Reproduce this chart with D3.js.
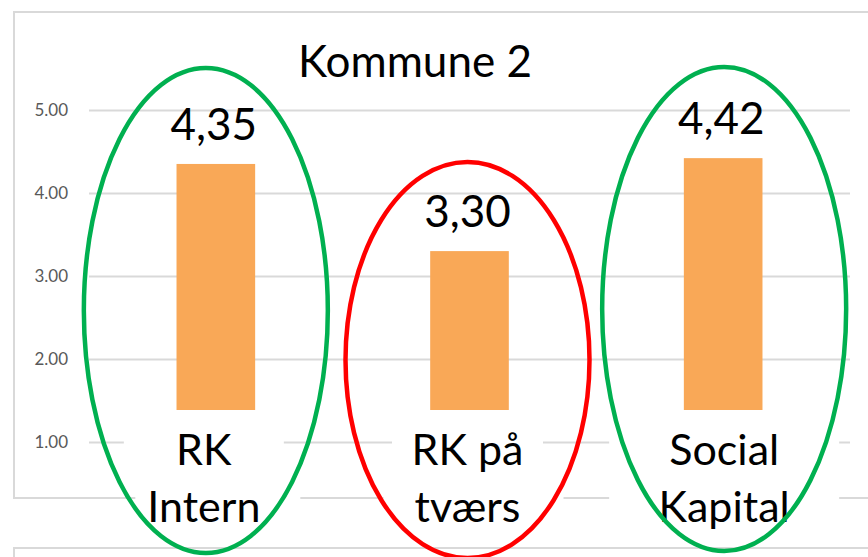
<!DOCTYPE html>
<html>
<head>
<meta charset="utf-8">
<script src="https://cdn.jsdelivr.net/npm/d3@7"></script>
<style>
  html, body { margin: 0; padding: 0; background: #fff; }
  svg { display: block; font-family: Lato, "Liberation Sans", sans-serif; }
</style>
</head>
<body>
<svg></svg>
<script>
// chart data
var title = "Kommune 2";
var categories = ["RK Intern", "RK på tværs", "Social Kapital"];
var labelLines = [["RK", "Intern"], ["RK på", "tværs"], ["Social", "Kapital"]];
var values = [4.35, 3.30, 4.42];
var yTicks = [1, 2, 3, 4, 5];
var ringColors = ["#00B050", "#FF0000", "#00B050"];

var width = 868,
    height = 557;

var svg = d3.select("svg")
    .attr("width", width)
    .attr("height", height);

// chart frame + the next chart's frame peeking in at the bottom
svg.append("rect")
    .attr("x", 14).attr("y", 12)
    .attr("width", 900).attr("height", 486)
    .attr("fill", "#fff")
    .attr("stroke", "#D9D9D9").attr("stroke-width", 2);
svg.append("rect")
    .attr("x", 14).attr("y", 548)
    .attr("width", 900).attr("height", 40)
    .attr("fill", "#fff")
    .attr("stroke", "#D9D9D9").attr("stroke-width", 2);

var x = d3.scaleBand()
    .domain(d3.range(values.length))
    .range([89, 850])
    .paddingInner(0.69)
    .paddingOuter(0.345);

var y = d3.scaleLinear()
    .domain([1, 5])
    .range([442, 110]);

var comma = d3.formatLocale({decimal: ",", thousands: ".", grouping: [3], currency: ["", ""]}).format(".2f");

// gridlines + tick labels
var yAxis = svg.append("g")
    .attr("transform", "translate(89,0)")
    .call(d3.axisLeft(y)
        .tickValues(yTicks)
        .tickSize(-(850 - 89))
        .tickPadding(21)
        .tickFormat(d3.format(".2f")));
yAxis.select(".domain").remove();
yAxis.selectAll(".tick line")
    .attr("stroke", "#D9D9D9")
    .attr("stroke-width", 2);
yAxis.selectAll(".tick text")
    .attr("fill", "#595959")
    .style("font-size", "17px")
    .style("font-family", "Lato, 'Liberation Sans', sans-serif");

// bars
svg.append("g")
    .selectAll("rect")
    .data(values)
    .enter().append("rect")
    .attr("x", function(d, i) { return x(i); })
    .attr("y", function(d) { return y(d); })
    .attr("width", x.bandwidth())
    .attr("height", function(d) { return y(1) - y(d); })
    .attr("fill", "#F9A857");

// value labels
svg.append("g")
    .selectAll("text")
    .data(values)
    .enter().append("text")
    .attr("x", function(d, i) { return x(i) + x.bandwidth() / 2 - 2; })
    .attr("y", function(d) { return y(d) - 24; })
    .attr("text-anchor", "middle")
    .style("font-size", "44px")
    .attr("fill", "#000")
    .text(function(d) { return comma(d); });

// title
svg.append("text")
    .attr("x", 415)
    .attr("y", 77)
    .attr("text-anchor", "middle")
    .style("font-size", "44px")
    .attr("fill", "#000")
    .text(title);

// category text boxes (white filled, sit over bar ends and frame)
var labelShift = [-12, -2, 1];
var boxW = [[160, 165], [151, 180], [230, 230]];
var boxShift = [[0, 14], [0, 6], [0, 0]];

var cat = svg.append("g")
    .selectAll("g")
    .data(categories)
    .enter().append("g")
    .attr("transform", function(d, i) {
      return "translate(" + (x(i) + x.bandwidth() / 2 + labelShift[i]) + ",0)";
    });

cat.append("rect")
    .attr("x", function(d, i) { return boxShift[i][0] - boxW[i][0] / 2; })
    .attr("y", 410)
    .attr("width", function(d, i) { return boxW[i][0]; })
    .attr("height", 68)
    .attr("fill", "#fff");
cat.append("rect")
    .attr("x", function(d, i) { return boxShift[i][1] - boxW[i][1] / 2; })
    .attr("y", 478)
    .attr("width", function(d, i) { return boxW[i][1]; })
    .attr("height", 62)
    .attr("fill", "#fff");

cat.each(function(d, i) {
  var g = d3.select(this);
  labelLines[i].forEach(function(line, k) {
    g.append("text")
      .attr("x", 0)
      .attr("y", 465 + k * 57)
      .attr("text-anchor", "middle")
      .style("font-size", "43px")
      .attr("fill", "#000")
      .text(line);
  });
});

// highlight rings around each category
var ringTop = [68, 162, 67];
var ringBottom = [553, 558, 551];
svg.append("g")
    .selectAll("ellipse")
    .data(categories)
    .enter().append("ellipse")
    .attr("cx", function(d, i) { return x(i) + x.bandwidth() / 2 + [-10, -2, 1][i]; })
    .attr("cy", function(d, i) { return (ringTop[i] + ringBottom[i]) / 2; })
    .attr("rx", 122)
    .attr("ry", function(d, i) { return (ringBottom[i] - ringTop[i]) / 2; })
    .attr("fill", "none")
    .attr("stroke", function(d, i) { return ringColors[i]; })
    .attr("stroke-width", 4.5);
</script>
</body>
</html>
